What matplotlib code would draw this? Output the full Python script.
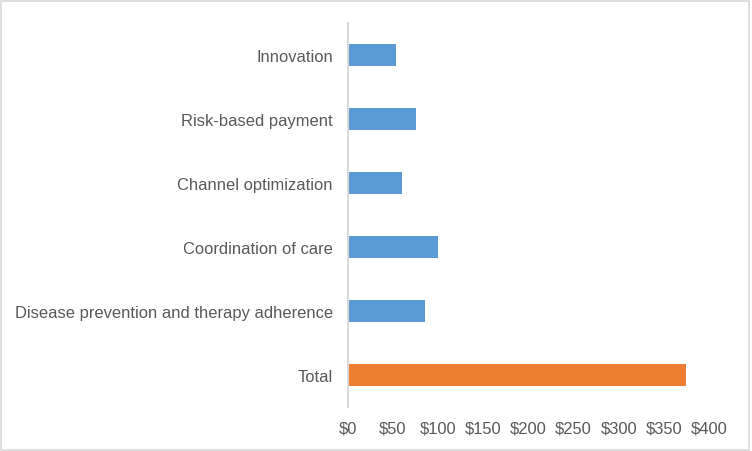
import matplotlib
matplotlib.use("Agg")
import matplotlib.pyplot as plt
from matplotlib.patches import Rectangle

categories = ["Innovation", "Risk-based payment", "Channel optimization",
              "Coordination of care", "Disease prevention and therapy adherence", "Total"]
values = [54, 76, 60, 100, 86, 375]
colors = ["#5B9BD5", "#5B9BD5", "#5B9BD5", "#5B9BD5", "#5B9BD5", "#ED7D31"]
xticks = [0, 50, 100, 150, 200, 250, 300, 350, 400]
xtick_labels = ["$0", "$50", "$100", "$150", "$200", "$250", "$300", "$350", "$400"]

plt.rcParams['font.family'] = ['Liberation Sans', 'DejaVu Sans']

W, H = 752, 452
fig = plt.figure(figsize=(W/100, H/100), dpi=100)
fig.patch.set_facecolor("white")
fig.patches.append(Rectangle((1/W, 1/H), (W-4)/W, (H-3)/H, transform=fig.transFigure,
                             fill=False, edgecolor="#d9d9d9", linewidth=1.2))

left, right, top, bottom = 347.5, 709, 24, 408
ax = fig.add_axes([left/W, 1-bottom/H, (right-left)/W, (bottom-top)/H])
y = list(range(len(categories)))
ax.barh(y, values, height=0.355, color=colors)
ax.set_ylim(len(categories)-0.5, -0.5)
ax.set_xlim(0, 400)
ax.set_yticks(y)
ax.set_yticklabels(categories)
ax.set_xticks(xticks)
ax.set_xticklabels(xtick_labels)
for s in ["top", "right", "bottom"]:
    ax.spines[s].set_visible(False)
ax.spines["left"].set_color("#d9d9d9")
ax.spines["left"].set_linewidth(1.5)
ax.tick_params(axis="both", length=0, colors="#595959", labelsize=11.9)
ax.tick_params(axis="y", pad=10.5)
ax.tick_params(axis="x", pad=9.4)

fig.savefig("out.png", dpi=100)
